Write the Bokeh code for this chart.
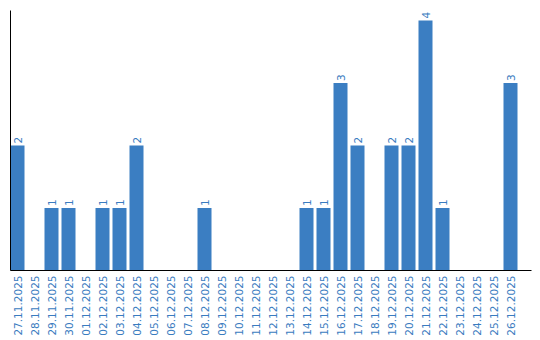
import math
from bokeh.plotting import figure
from bokeh.models import ColumnDataSource, Range1d, FixedTicker, LabelSet
from bokeh.core.properties import value
from bokeh.embed import file_html
from bokeh.resources import INLINE

dates = ["27.11.2025", "28.11.2025", "29.11.2025", "30.11.2025", "01.12.2025",
         "02.12.2025", "03.12.2025", "04.12.2025", "05.12.2025", "06.12.2025",
         "07.12.2025", "08.12.2025", "09.12.2025", "10.12.2025", "11.12.2025",
         "12.12.2025", "13.12.2025", "14.12.2025", "15.12.2025", "16.12.2025",
         "17.12.2025", "18.12.2025", "19.12.2025", "20.12.2025", "21.12.2025",
         "22.12.2025", "23.12.2025", "24.12.2025", "25.12.2025", "26.12.2025"]
counts = [2, 0, 1, 1, 0, 1, 1, 2, 0, 0, 0, 1, 0, 0, 0, 0, 0, 1, 1, 3,
          2, 0, 2, 2, 4, 1, 0, 0, 0, 3]

BAR = "#3b7ec2"
TXT = "#3a7cc0"

idx = list(range(len(dates)))
src = ColumnDataSource(dict(x=idx, top=counts))
lab_x = [i for i, c in zip(idx, counts) if c > 0]
lab_y = [c for c in counts if c > 0]
lab_src = ColumnDataSource(dict(x=lab_x, y=lab_y, t=[str(c) for c in lab_y]))

p = figure(width=540, height=340, output_backend="svg", toolbar_location=None,
           x_range=Range1d(-7 / 17, 514 / 17), y_range=Range1d(0, 4.16),
           min_border_left=10, min_border_right=9, min_border_top=10, min_border_bottom=70)
p.outline_line_color = None
p.xgrid.visible = False
p.ygrid.visible = False
p.background_fill_color = "white"
p.border_fill_color = "white"

p.vbar(x="x", top="top", width=14 / 17, bottom=0, source=src,
       fill_color=BAR, line_color=None)

labels = LabelSet(x="x", y="y", text="t", source=lab_src, angle=math.pi / 2,
                  text_align="left", text_baseline="middle", y_offset=2,
                  text_color=TXT, text_font=value("DejaVu Sans"),
                  text_font_size="10.5px")
p.add_layout(labels)

xa = p.xaxis[0]
xa.ticker = FixedTicker(ticks=idx)
xa.major_label_overrides = {i: d for i, d in zip(idx, dates)}
xa.major_label_orientation = math.pi / 2
xa.major_tick_line_color = None
xa.minor_tick_line_color = None
xa.major_tick_out = 0
xa.major_tick_in = 0
xa.major_label_standoff = 5
xa.major_label_text_color = TXT
xa.major_label_text_font = "DejaVu Sans"
xa.major_label_text_font_size = "10.5px"
xa.axis_line_color = "black"
xa.axis_line_width = 1

ya = p.yaxis[0]
ya.ticker = FixedTicker(ticks=[])
ya.major_tick_line_color = None
ya.minor_tick_line_color = None
ya.major_tick_out = 0
ya.major_tick_in = 0
ya.major_label_text_font_size = "0px"
ya.axis_line_color = "black"
ya.axis_line_width = 1

open("out.html", "w").write(file_html(p, INLINE))
